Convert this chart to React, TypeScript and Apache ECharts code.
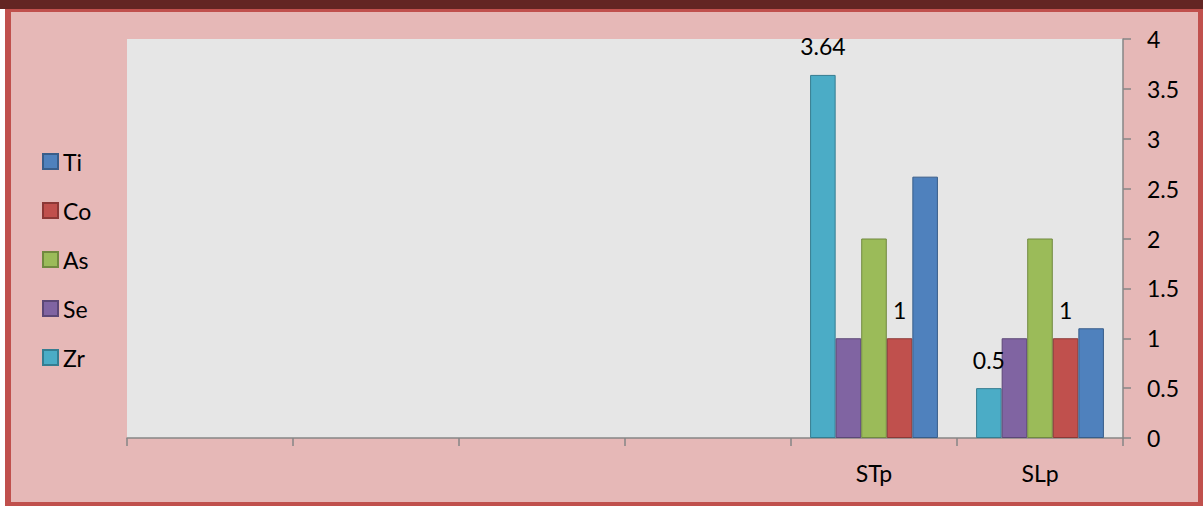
import React, { useEffect, useRef } from "react";
import * as echarts from "echarts";

// Sample categories (the first four slots are empty on the axis)
const categories = ["", "", "", "", "STp", "SLp"];

// Element concentrations per sample
const zrValues = [null, null, null, null, 3.64, 0.5];
const seValues = [null, null, null, null, 1, 1];
const asValues = [null, null, null, null, 2, 2];
const coValues = [null, null, null, null, 1, 1];
const tiValues = [null, null, null, null, 2.62, 1.1];

const legendOrder = ["Ti", "Co", "As", "Se", "Zr"];
const yTicks = { min: 0, max: 4, interval: 0.5 };

const FONT = "Lato, 'Open Sans', sans-serif";
const FS = 23;

export default function App() {
  const ref = useRef<HTMLDivElement>(null);

  useEffect(() => {
    if (!ref.current) return;
    const chart = echarts.init(ref.current, null, { renderer: "svg" });

    const labelOn = {
      show: true,
      position: "top",
      distance: 17,
      color: "#000",
      fontSize: FS,
      fontFamily: FONT,
    };

    const mk = (
      name: string,
      data: (number | null)[],
      color: string,
      border: string,
      withLabel: boolean
    ) => ({
      name,
      type: "bar",
      data,
      barGap: "0%",
      barCategoryGap: "23%",
      itemStyle: { color, borderColor: border, borderWidth: 1 },
      label: withLabel ? labelOn : { show: false },
    });

    chart.setOption({
      animation: false,
      backgroundColor: "transparent",
      graphic: [
        { type: "rect", shape: { x: 0, y: 0, width: 1203, height: 9 }, style: { fill: "#632523" }, z: -10 },
        { type: "rect", shape: { x: 5, y: 9, width: 1198, height: 497 }, style: { fill: "#e6b8b7" }, z: -10 },
        { type: "rect", shape: { x: 5, y: 9, width: 1198, height: 3 }, style: { fill: "#c0504d" }, z: -9 },
        { type: "rect", shape: { x: 5, y: 9, width: 6, height: 497 }, style: { fill: "#c0504d" }, z: -9 },
        { type: "rect", shape: { x: 1198, y: 9, width: 5, height: 497 }, style: { fill: "#c0504d" }, z: -9 },
        { type: "rect", shape: { x: 5, y: 502, width: 1198, height: 4 }, style: { fill: "#c0504d" }, z: -9 },
      ],
      grid: {
        left: 127,
        right: 80,
        top: 39,
        bottom: 68,
        show: true,
        backgroundColor: "#e6e6e6",
        borderWidth: 0,
      },
      legend: {
        orient: "vertical",
        left: 37,
        top: 145,
        itemWidth: 15,
        itemHeight: 15,
        itemGap: 26,
        icon: "rect",
        data: legendOrder,
        textStyle: { fontSize: FS, fontFamily: FONT, color: "#000", lineHeight: 22 },
      },
      xAxis: {
        type: "category",
        data: categories,
        axisLine: { show: true, lineStyle: { color: "#868686", width: 1.5 } },
        axisTick: { show: true, length: 8, interval: 0, lineStyle: { color: "#868686", width: 1.5 } },
        axisLabel: { margin: 23, fontSize: FS, fontFamily: FONT, color: "#000", interval: 0 },
      },
      yAxis: {
        type: "value",
        position: "right",
        min: yTicks.min,
        max: yTicks.max,
        interval: yTicks.interval,
        axisLine: { show: true, lineStyle: { color: "#868686", width: 1.5 } },
        axisTick: { show: true, length: 8, lineStyle: { color: "#868686", width: 1.5 } },
        axisLabel: { margin: 24, fontSize: FS, fontFamily: FONT, color: "#000" },
        splitLine: { show: false },
      },
      series: [
        mk("Zr", zrValues, "#4bacc6", "#357d91", true),
        mk("Se", seValues, "#8064a2", "#5c4776", false),
        mk("As", asValues, "#9bbb59", "#71893f", false),
        mk("Co", coValues, "#c0504d", "#8c3836", true),
        mk("Ti", tiValues, "#4f81bd", "#385d8a", false),
      ],
    });

    return () => chart.dispose();
  }, []);

  return (
    <div
      ref={ref}
      style={{ position: "fixed", left: 0, top: 0, width: 1203, height: 506, background: "#fff" }}
    />
  );
}
